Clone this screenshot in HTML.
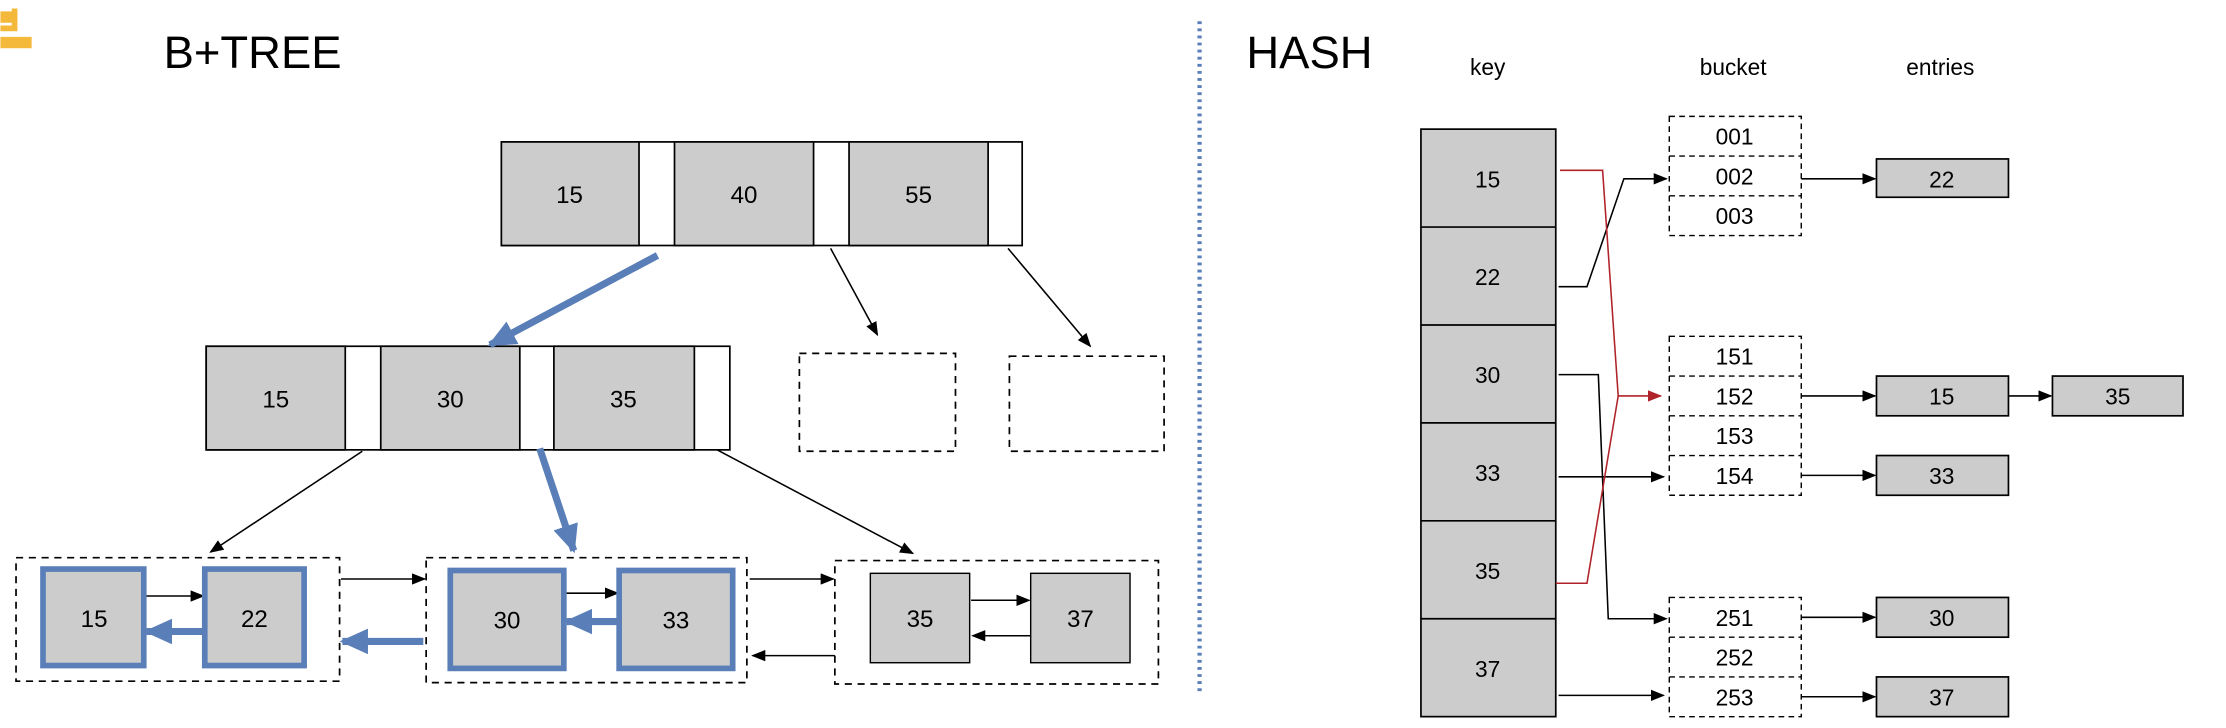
<!DOCTYPE html>
<html><head><meta charset="utf-8"><style>
html,body{margin:0;padding:0;background:#fff;}
svg{display:block;}
text{font-family:"Liberation Sans",sans-serif;}
</style></head><body>
<svg width="2226" height="728" viewBox="0 0 1568 513" xmlns="http://www.w3.org/2000/svg">
<defs>
<marker id="ab" markerWidth="10" markerHeight="8" refX="9" refY="4" orient="auto" markerUnits="userSpaceOnUse"><path d="M0,0 L10,4 L0,8 z" fill="#000"/></marker>
<marker id="ar" markerWidth="10" markerHeight="8" refX="9" refY="4" orient="auto" markerUnits="userSpaceOnUse"><path d="M0,0 L10,4 L0,8 z" fill="#b0232a"/></marker>
<marker id="abl" markerWidth="20" markerHeight="18" refX="18" refY="9" orient="auto" markerUnits="userSpaceOnUse"><path d="M0,0 L20,9 L0,18 z" fill="#5a7fb8"/></marker>
</defs>
<!-- corner logo -->
<path d="M0,10 h6 v4 h-6 M0,20 h10 v-14 M0,28 h20 v4 h-20" stroke="#f4b93a" stroke-width="4" fill="none"/>
<text x="115" y="48" font-size="32" font-family="Liberation Sans">B+TREE</text>
<text x="878" y="48" font-size="32">HASH</text>
<line x1="845" y1="15" x2="845" y2="490" stroke="#5a7fb8" stroke-width="3" stroke-dasharray="2,3"/>

<g stroke="#000" stroke-width="1.2">
<!-- root -->
<rect x="353" y="100" width="367" height="73" fill="#fff"/>
<rect x="353" y="100" width="97" height="73" fill="#ccc"/>
<rect x="475" y="100" width="98" height="73" fill="#ccc"/>
<rect x="598" y="100" width="98" height="73" fill="#ccc"/>
<!-- middle -->
<rect x="145" y="244" width="369" height="73" fill="#fff"/>
<rect x="145" y="244" width="98" height="73" fill="#ccc"/>
<rect x="268" y="244" width="98" height="73" fill="#ccc"/>
<rect x="390" y="244" width="99" height="73" fill="#ccc"/>
</g>
<g font-size="17" text-anchor="middle">
<text x="401" y="143">15</text><text x="524" y="143">40</text><text x="647" y="143">55</text>
<text x="194" y="287">15</text><text x="317" y="287">30</text><text x="439" y="287">35</text>
</g>
<g fill="none" stroke="#000" stroke-width="1.2" stroke-dasharray="5,4">
<rect x="563" y="249" width="110" height="69"/>
<rect x="711" y="251" width="109" height="67"/>
<rect x="11" y="393" width="228" height="87"/>
<rect x="300" y="393" width="226" height="88"/>
<rect x="588" y="395" width="228" height="87"/>
</g>
<g stroke="#000" stroke-width="1.1" marker-end="url(#ab)">
<line x1="585" y1="175" x2="618" y2="236"/>
<line x1="710" y1="175" x2="768" y2="244"/>
<line x1="255" y1="318" x2="148" y2="389"/>
<line x1="505" y1="317" x2="643" y2="390"/>
<line x1="101" y1="420" x2="143" y2="420"/>
<line x1="240" y1="408" x2="299" y2="408"/>
<line x1="528" y1="408" x2="587" y2="408"/>
<line x1="588" y1="462" x2="530" y2="462"/>
<line x1="398" y1="418" x2="435" y2="418"/>
<line x1="684" y1="423" x2="725" y2="423"/>
<line x1="726" y1="448" x2="685" y2="448"/>
</g>
<!-- leaves -->
<g stroke="#000" stroke-width="1" fill="#ccc">
<rect x="30" y="401" width="71" height="68"/>
<rect x="144" y="401" width="70" height="68"/>
<rect x="317" y="402" width="80" height="69"/>
<rect x="436" y="402" width="80" height="69"/>
<rect x="613" y="404" width="70" height="63"/>
<rect x="726" y="404" width="70" height="63"/>
</g>
<g fill="none" stroke="#5a7fb8" stroke-width="4">
<rect x="30" y="401" width="71" height="68"/>
<rect x="144" y="401" width="70" height="68"/>
<rect x="317" y="402" width="80" height="69"/>
<rect x="436" y="402" width="80" height="69"/>
</g>
<g font-size="17" text-anchor="middle">
<text x="66" y="442">15</text><text x="179" y="442">22</text>
<text x="357" y="443">30</text><text x="476" y="443">33</text>
<text x="648" y="442">35</text><text x="761" y="442">37</text>
</g>
<g stroke="#5a7fb8" stroke-width="5" marker-end="url(#abl)">
<line x1="463" y1="180" x2="345" y2="243"/>
<line x1="380" y1="316" x2="404" y2="388"/>
<line x1="144" y1="445" x2="103" y2="445"/>
<line x1="298" y1="452" x2="241" y2="452"/>
<line x1="436" y1="438" x2="399" y2="438"/>
</g>

<!-- HASH -->
<g font-size="16" text-anchor="middle">
<text x="1048" y="53">key</text><text x="1221" y="53">bucket</text><text x="1367" y="53">entries</text>
</g>
<g stroke="#000" stroke-width="1.2" fill="#ccc">
<rect x="1001" y="91" width="95" height="414"/>
<line x1="1001" y1="160" x2="1096" y2="160"/>
<line x1="1001" y1="229" x2="1096" y2="229"/>
<line x1="1001" y1="298" x2="1096" y2="298"/>
<line x1="1001" y1="367" x2="1096" y2="367"/>
<line x1="1001" y1="436" x2="1096" y2="436"/>
<rect x="1322" y="112" width="93" height="27"/>
<rect x="1322" y="265" width="93" height="28"/>
<rect x="1446" y="265" width="92" height="28"/>
<rect x="1322" y="321" width="93" height="28"/>
<rect x="1322" y="421" width="93" height="28"/>
<rect x="1322" y="477" width="93" height="28"/>
</g>
<g font-size="16" text-anchor="middle">
<text x="1048" y="132">15</text><text x="1048" y="201">22</text><text x="1048" y="270">30</text>
<text x="1048" y="339">33</text><text x="1048" y="408">35</text><text x="1048" y="477">37</text>
<text x="1368" y="132">22</text><text x="1368" y="285">15</text><text x="1492" y="285">35</text>
<text x="1368" y="341">33</text><text x="1368" y="441">30</text><text x="1368" y="497">37</text>
</g>
<g fill="none" stroke="#000" stroke-width="1" stroke-dasharray="4,3">
<rect x="1176" y="82" width="93" height="84"/>
<line x1="1176" y1="110" x2="1269" y2="110"/><line x1="1176" y1="138" x2="1269" y2="138"/>
<rect x="1176" y="237" width="93" height="112"/>
<line x1="1176" y1="265" x2="1269" y2="265"/><line x1="1176" y1="293" x2="1269" y2="293"/><line x1="1176" y1="321" x2="1269" y2="321"/>
<rect x="1176" y="421" width="93" height="84"/>
<line x1="1176" y1="449" x2="1269" y2="449"/><line x1="1176" y1="477" x2="1269" y2="477"/>
</g>
<g font-size="16" text-anchor="middle">
<text x="1222" y="102">001</text><text x="1222" y="130">002</text><text x="1222" y="158">003</text>
<text x="1222" y="257">151</text><text x="1222" y="285">152</text><text x="1222" y="313">153</text><text x="1222" y="341">154</text>
<text x="1222" y="441">251</text><text x="1222" y="469">252</text><text x="1222" y="497">253</text>
</g>
<g fill="none" stroke="#000" stroke-width="1.1" marker-end="url(#ab)">
<polyline points="1098,202 1118,202 1144,126 1174,126"/>
<polyline points="1098,264 1126,264 1133,436 1174,436"/>
<line x1="1098" y1="336" x2="1172" y2="336"/>
<line x1="1098" y1="490" x2="1172" y2="490"/>
<line x1="1269" y1="126" x2="1321" y2="126"/>
<line x1="1269" y1="279" x2="1321" y2="279"/>
<line x1="1269" y1="335" x2="1321" y2="335"/>
<line x1="1269" y1="435" x2="1321" y2="435"/>
<line x1="1269" y1="491" x2="1321" y2="491"/>
<line x1="1415" y1="279" x2="1445" y2="279"/>
</g>
<g fill="none" stroke="#b0232a" stroke-width="1.1">
<polyline points="1099,120 1129,120 1140,279" />
<polyline points="1096,411 1118,411 1140,279 1170,279" marker-end="url(#ar)"/>
</g>
</svg>
</body></html>
